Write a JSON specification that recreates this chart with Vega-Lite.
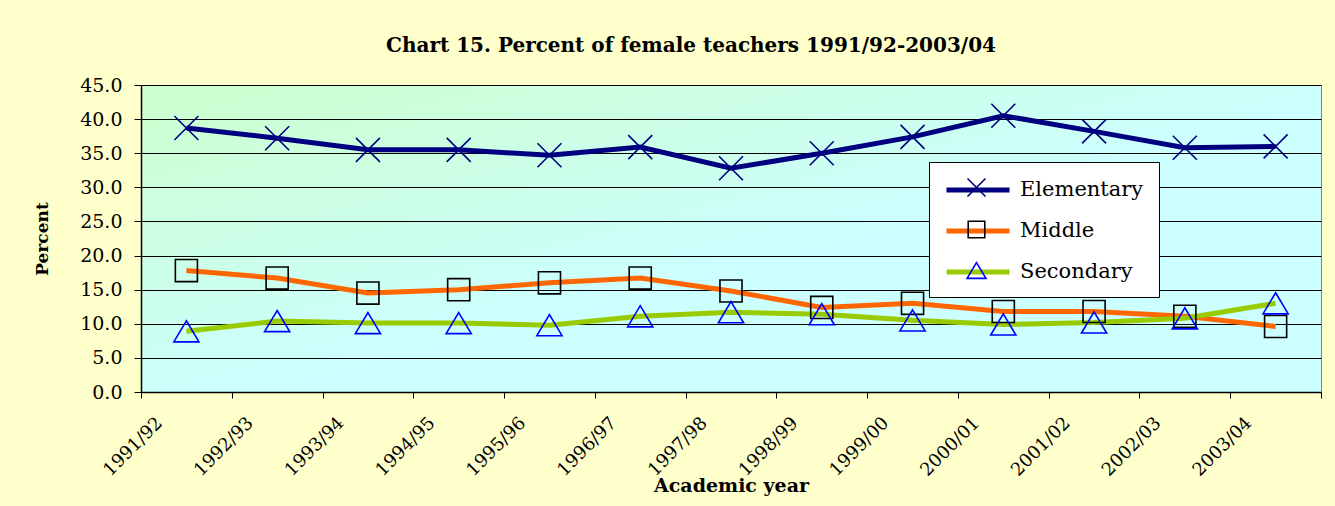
{
  "$schema": "https://vega.github.io/schema/vega-lite/v6.json",
  "width": 1180,
  "height": 307,
  "autosize": {"type": "none"},
  "padding": {"left": 141, "top": 85, "right": 14, "bottom": 114},
  "background": "#FFFFCC",
  "title": {
    "text": "Chart 15. Percent of female teachers 1991/92-2003/04",
    "font": "DejaVu Serif",
    "fontSize": 20,
    "fontWeight": "bold",
    "color": "black",
    "anchor": "middle",
    "dx": -40,
    "offset": 20
  },
  "config": {
    "view": {
      "stroke": "#808080",
      "strokeWidth": 1,
      "fill": {
        "gradient": "linear",
        "x1": 0, "y1": 0, "x2": 1, "y2": 1,
        "stops": [
          {"offset": 0, "color": "#CCFFCC"},
          {"offset": 0.55, "color": "#CCFFFF"},
          {"offset": 1, "color": "#CCFFFF"}
        ]
      }
    }
  },
  "data": {
    "values": [
      {"year": "1991/92", "series": "Elementary", "value": 38.7},
      {"year": "1992/93", "series": "Elementary", "value": 37.2},
      {"year": "1993/94", "series": "Elementary", "value": 35.5},
      {"year": "1994/95", "series": "Elementary", "value": 35.5},
      {"year": "1995/96", "series": "Elementary", "value": 34.7},
      {"year": "1996/97", "series": "Elementary", "value": 35.9},
      {"year": "1997/98", "series": "Elementary", "value": 32.8},
      {"year": "1998/99", "series": "Elementary", "value": 35.0},
      {"year": "1999/00", "series": "Elementary", "value": 37.4},
      {"year": "2000/01", "series": "Elementary", "value": 40.5},
      {"year": "2001/02", "series": "Elementary", "value": 38.2},
      {"year": "2002/03", "series": "Elementary", "value": 35.8},
      {"year": "2003/04", "series": "Elementary", "value": 36.0},
      {"year": "1991/92", "series": "Middle", "value": 17.8},
      {"year": "1992/93", "series": "Middle", "value": 16.7},
      {"year": "1993/94", "series": "Middle", "value": 14.5},
      {"year": "1994/95", "series": "Middle", "value": 15.0},
      {"year": "1995/96", "series": "Middle", "value": 16.0},
      {"year": "1996/97", "series": "Middle", "value": 16.7},
      {"year": "1997/98", "series": "Middle", "value": 14.8},
      {"year": "1998/99", "series": "Middle", "value": 12.4},
      {"year": "1999/00", "series": "Middle", "value": 13.0},
      {"year": "2000/01", "series": "Middle", "value": 11.8},
      {"year": "2001/02", "series": "Middle", "value": 11.8},
      {"year": "2002/03", "series": "Middle", "value": 11.1},
      {"year": "2003/04", "series": "Middle", "value": 9.6},
      {"year": "1991/92", "series": "Secondary", "value": 8.9},
      {"year": "1992/93", "series": "Secondary", "value": 10.4},
      {"year": "1993/94", "series": "Secondary", "value": 10.1},
      {"year": "1994/95", "series": "Secondary", "value": 10.1},
      {"year": "1995/96", "series": "Secondary", "value": 9.8},
      {"year": "1996/97", "series": "Secondary", "value": 11.1},
      {"year": "1997/98", "series": "Secondary", "value": 11.7},
      {"year": "1998/99", "series": "Secondary", "value": 11.4},
      {"year": "1999/00", "series": "Secondary", "value": 10.5},
      {"year": "2000/01", "series": "Secondary", "value": 9.9},
      {"year": "2001/02", "series": "Secondary", "value": 10.2},
      {"year": "2002/03", "series": "Secondary", "value": 10.8},
      {"year": "2003/04", "series": "Secondary", "value": 13.0}
    ]
  },
  "encoding": {
    "x": {
      "field": "year",
      "type": "ordinal",
      "scale": {"type": "band", "paddingInner": 0, "paddingOuter": 0},
      "axis": {
        "title": "Academic year",
        "titleFont": "DejaVu Serif",
        "titleFontSize": 19,
        "titleFontWeight": "bold",
        "titleColor": "black",
        "titlePadding": -3,
        "labelFont": "DejaVu Serif",
        "labelFontSize": 18,
        "labelColor": "black",
        "labelAngle": -45,
        "labelAlign": "right",
        "labelBaseline": "middle",
        "labelOffset": -27,
        "labelPadding": 22,
        "tickBand": "extent",
        "tickColor": "black",
        "tickSize": 6,
        "domainColor": "black",
        "domainWidth": 1.5,
        "grid": false
      }
    },
    "y": {
      "field": "value",
      "type": "quantitative",
      "scale": {"domain": [0, 45], "nice": false},
      "axis": {
        "title": "Percent",
        "titleFont": "DejaVu Serif",
        "titleFontSize": 17,
        "titleFontWeight": "bold",
        "titleColor": "black",
        "titlePadding": 28,
        "values": [0, 5, 10, 15, 20, 25, 30, 35, 40, 45],
        "format": ".1f",
        "labelFont": "DejaVu Serif",
        "labelFontSize": 19,
        "labelColor": "black",
        "labelPadding": 12,
        "tickColor": "black",
        "tickSize": 7,
        "domainColor": "black",
        "domainWidth": 1.5,
        "grid": true,
        "gridColor": "black",
        "gridWidth": 1
      }
    }
  },
  "layer": [
    {
      "mark": {"type": "line", "strokeWidth": 5},
      "encoding": {
        "color": {
          "field": "series",
          "type": "nominal",
          "scale": {"domain": ["Elementary", "Middle", "Secondary"], "range": ["#000080", "#FF6600", "#99CC00"]},
          "legend": {
            "orient": "none",
            "legendX": 788,
            "legendY": 77,
            "title": null,
            "symbolType": "M-3,0H3",
            "symbolSize": 441,
            "symbolStrokeWidth": 5,
            "symbolOffset": 21,
            "labelOffset": 29,
            "labelFont": "DejaVu Serif",
            "labelFontSize": 21,
            "labelColor": "black",
            "labelLimit": 300,
            "rowPadding": 18,
            "padding": 15,
            "fillColor": "white",
            "strokeColor": "black"
          }
        }
      }
    },
    {
      "mark": {"type": "point", "filled": false, "size": 576, "strokeWidth": 1.6, "opacity": 1},
      "encoding": {
        "stroke": {
          "field": "series",
          "type": "nominal",
          "scale": {"range": ["#000080", "#000000", "#0000FF"]},
          "legend": {
            "orient": "none",
            "legendX": 788,
            "legendY": 77,
            "title": null,
            "symbolSize": 324,
            "symbolStrokeWidth": 1.6,
            "symbolOffset": 22,
            "labelExpr": "''",
            "labelFont": "DejaVu Serif",
            "labelFontSize": 21,
            "rowPadding": 18,
            "padding": 15
          }
        },
        "shape": {
          "field": "series",
          "type": "nominal",
          "scale": {"range": ["M-1,-1L1,1M-1,1L1,-1", "M-0.92,-0.92H0.92V0.92H-0.92Z", "M0,-0.88L1.05,0.88H-1.05Z"]},
          "legend": {
            "orient": "none",
            "legendX": 788,
            "legendY": 77,
            "title": null,
            "symbolSize": 324,
            "symbolStrokeWidth": 1.6,
            "symbolOffset": 22,
            "labelExpr": "''",
            "labelFont": "DejaVu Serif",
            "labelFontSize": 21,
            "rowPadding": 18,
            "padding": 15
          }
        }
      }
    }
  ]
}
